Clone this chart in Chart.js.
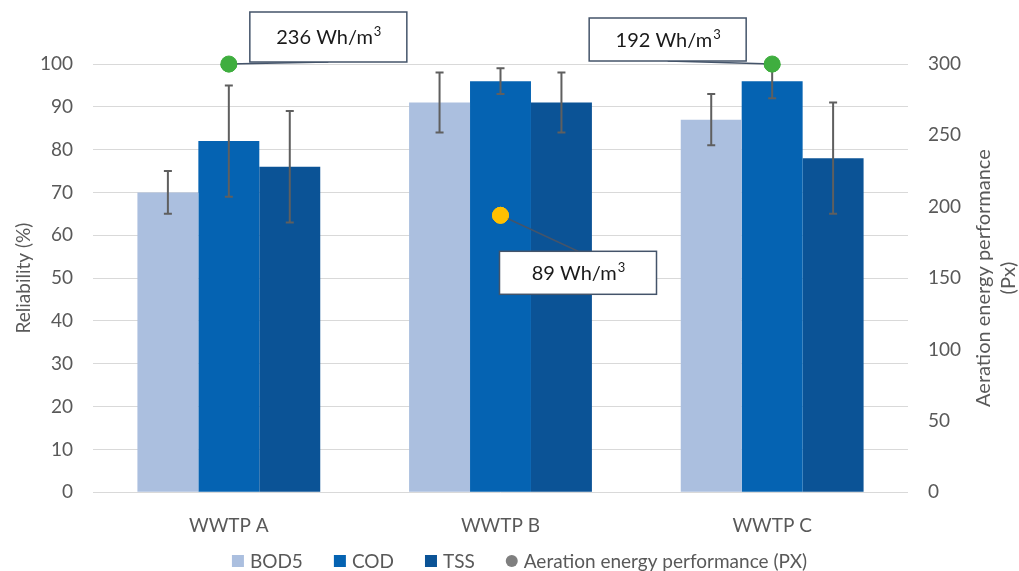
<!DOCTYPE html>
<html>
<head>
<meta charset="utf-8">
<script src="https://cdn.jsdelivr.net/npm/chart.js@4.4.0/dist/chart.umd.min.js"></script>
<style>
  body { margin: 0; background: #fff; }
  #wrap { width: 1019px; height: 571px; position: relative; }
</style>
</head>
<body>
<div id="wrap"><canvas id="chart"></canvas></div>
<script>
const categories = ["WWTP A", "WWTP B", "WWTP C"];
const bod5 = [70, 91, 87];
const cod = [82, 96, 96];
const tss = [76, 91, 78];
const bod5Err = [5, 7, 6];
const codErr = [13, 3, 4];
const tssErr = [13, 7, 13];
const aeration = [300, 194, 300];
const aerationLabels = ["236 Wh/m", "89 Wh/m", "192 Wh/m"];
const aerationSup = "3";
const aerationColors = ["#3FAE3F", "#FFC000", "#3FAE3F"];

const leftTitle = "Reliability (%)";
const rightTitle = ["Aeration energy performance", "(Px)"];

const greyText = "#595959";
const fontFamily = "Lato, sans-serif";
Chart.defaults.font.family = fontFamily;
Chart.defaults.font.size = 19;
Chart.defaults.color = greyText;

// error bars, drawn right after each bar dataset so the dots sit on top
const errorBars = {
  id: "errorBars",
  afterDatasetDraw(chart, args) {
    const ds = chart.data.datasets[args.index];
    if (!ds.errors) return;
    const ctx = chart.ctx;
    const y = chart.scales.y;
    ctx.save();
    ctx.strokeStyle = "#5F5F5F";
    ctx.lineWidth = 2;
    args.meta.data.forEach((bar, i) => {
      const v = ds.data[i];
      const e = ds.errors[i];
      const top = y.getPixelForValue(v + e);
      const bot = y.getPixelForValue(v - e);
      ctx.beginPath();
      ctx.moveTo(bar.x, top);
      ctx.lineTo(bar.x, bot);
      ctx.moveTo(bar.x - 4, top);
      ctx.lineTo(bar.x + 4, top);
      ctx.moveTo(bar.x - 4, bot);
      ctx.lineTo(bar.x + 4, bot);
      ctx.stroke();
    });
    ctx.restore();
  }
};

// callout boxes, right axis title and the legend row
const extras = {
  id: "extras",
  afterDraw(chart) {
    const ctx = chart.ctx;
    const meta = chart.getDatasetMeta(3);
    // box offsets from each point: [dx, dy, w, h, line goes to top edge?]
    const boxes = [
      [21, -52, 157, 50, false],
      [-1, 36, 157, 43, true],
      [-183, -46, 157, 43, false]
    ];
    ctx.save();
    meta.data.forEach((pt, i) => {
      const [dx, dy, w, h, top] = boxes[i];
      const bx = pt.x + dx;
      const by = pt.y + dy;
      ctx.strokeStyle = "#44546A";
      ctx.lineWidth = 1.5;
      ctx.beginPath();
      ctx.moveTo(pt.x, pt.y);
      ctx.lineTo(bx + w / 2, top ? by : by + h);
      ctx.stroke();
      ctx.fillStyle = "#fff";
      ctx.fillRect(bx, by, w, h);
      ctx.strokeRect(bx, by, w, h);
      // label with a superscript 3
      ctx.fillStyle = "#1A1A1A";
      ctx.textBaseline = "alphabetic";
      ctx.textAlign = "left";
      ctx.font = "20px " + fontFamily;
      const mainW = ctx.measureText(aerationLabels[i]).width;
      ctx.font = "13px " + fontFamily;
      const supW = ctx.measureText(aerationSup).width;
      const tx = bx + w / 2 - (mainW + supW) / 2;
      const base = by + h / 2 + 7;
      ctx.font = "20px " + fontFamily;
      ctx.fillText(aerationLabels[i], tx, base);
      ctx.font = "13px " + fontFamily;
      ctx.fillText(aerationSup, tx + mainW + 1, base - 8);
    });
    // put the points back over the leader lines
    meta.data.forEach((pt) => pt.draw(ctx));

    const area = chart.chartArea;
    const cy = (area.top + area.bottom) / 2;
    ctx.fillStyle = greyText;
    ctx.font = "20px " + fontFamily;
    ctx.textAlign = "center";
    ctx.textBaseline = "middle";
    rightTitle.forEach((line, k) => {
      ctx.save();
      ctx.translate(984 + k * 25, cy);
      ctx.rotate(-Math.PI / 2);
      ctx.fillText(line, 0, 0);
      ctx.restore();
    });

    // legend
    ctx.font = "19px " + fontFamily;
    ctx.textAlign = "left";
    const box = 12, gap = 6, spacing = 31;
    const widths = chart.data.datasets.map((ds) => box + gap + ctx.measureText(ds.label).width);
    const total = widths.reduce((a, b) => a + b, 0) + spacing * (widths.length - 1);
    let x = chart.width / 2 + 10 - total / 2;
    const ly = 561;
    chart.data.datasets.forEach((ds, i) => {
      if (ds.type === "line") {
        ctx.fillStyle = "#7F7F7F";
        ctx.beginPath();
        ctx.arc(x + box / 2, ly, 6, 0, Math.PI * 2);
        ctx.fill();
      } else {
        ctx.fillStyle = ds.backgroundColor;
        ctx.fillRect(x, ly - box / 2, box, box);
      }
      ctx.fillStyle = greyText;
      ctx.fillText(ds.label, x + box + gap, ly + 1);
      x += widths[i] + spacing;
    });
    ctx.restore();
  }
};

new Chart(document.getElementById("chart").getContext("2d"), {
  type: "bar",
  data: {
    labels: categories,
    datasets: [
      { label: "BOD5", data: bod5, errors: bod5Err, backgroundColor: "#ABBFDF", order: 1 },
      { label: "COD", data: cod, errors: codErr, backgroundColor: "#0563B2", order: 1 },
      { label: "TSS", data: tss, errors: tssErr, backgroundColor: "#0B5396", order: 1 },
      {
        type: "line",
        label: "Aeration energy performance (PX)",
        data: aeration,
        yAxisID: "y1",
        showLine: false,
        pointRadius: 8,
        pointHoverRadius: 8,
        pointBackgroundColor: aerationColors,
        pointBorderColor: aerationColors,
        order: 0
      }
    ]
  },
  options: {
    responsive: true,
    maintainAspectRatio: false,
    animation: false,
    datasets: {
      bar: { categoryPercentage: 0.673, barPercentage: 1 }
    },
    layout: { padding: { top: 64, left: 12, right: 38, bottom: 20 } },
    scales: {
      x: {
        grid: { display: false },
        border: { display: false },
        ticks: { padding: 14 }
      },
      y: {
        min: 0,
        max: 100,
        ticks: { stepSize: 10, padding: 20 },
        grid: { color: "#D9D9D9", drawTicks: false },
        border: { display: false },
        title: { display: true, text: leftTitle, padding: { top: 0, bottom: 8 } },
        afterFit: (scale) => { scale.width = 81; }
      },
      y1: {
        position: "right",
        min: 0,
        max: 300,
        ticks: { stepSize: 50, padding: 20 },
        grid: { display: false, drawTicks: false },
        border: { display: false },
        afterFit: (scale) => { scale.width = 73; }
      }
    },
    plugins: {
      legend: { display: false },
      tooltip: { enabled: false }
    }
  },
  plugins: [errorBars, extras]
});
</script>
</body>
</html>
